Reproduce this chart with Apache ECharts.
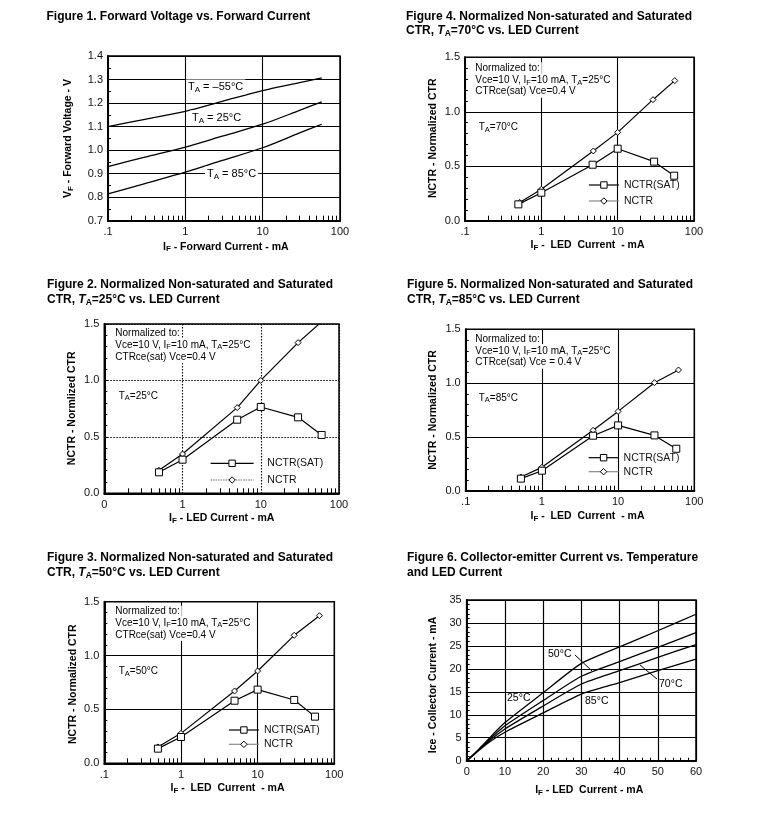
<!DOCTYPE html>
<html><head><meta charset="utf-8">
<script src="https://cdn.jsdelivr.net/npm/echarts@6/dist/echarts.min.js"></script>
<style>html,body{margin:0;padding:0;background:#fff}#c{width:776px;height:816px}</style>
</head><body><div id="c"></div>
<script>
// ---------------- data ----------------
const logTickValues = [0.1, 1, 10, 100];
const logTickLabels = ['.1', '1', '10', '100'];
const fig2TickLabels = ['0', '1', '10', '100'];

// Figure 1: Forward voltage vs forward current
const fig1Current = [0.1, 0.3, 1, 3, 10, 30, 58];
const fig1VfMinus55 = [1.100, 1.131, 1.165, 1.207, 1.253, 1.287, 1.307];
const fig1Vf25 = [0.930, 0.970, 1.013, 1.059, 1.110, 1.169, 1.205];
const fig1Vf85 = [0.814, 0.858, 0.906, 0.956, 1.010, 1.073, 1.110];

// Figure 2: TA = 25°C
const fig2SatCurrent = [0.5, 1, 5, 10, 30, 60];
const fig2Sat = [0.186, 0.298, 0.652, 0.765, 0.673, 0.517];
const fig2NctrCurrent = [0.5, 1, 5, 10, 30, 60];
const fig2Nctr = [0.204, 0.348, 0.759, 1.000, 1.335, 1.52];

// Figure 3: TA = 50°C
const fig3SatCurrent = [0.5, 1, 5, 10, 30, 56];
const fig3Sat = [0.136, 0.244, 0.581, 0.684, 0.588, 0.433];
const fig3NctrCurrent = [0.5, 1, 5, 10, 30, 64];
const fig3Nctr = [0.152, 0.278, 0.671, 0.857, 1.188, 1.370];

// Figure 4: TA = 70°C
const fig4SatCurrent = [0.5, 1, 4.7, 10, 30, 55];
const fig4Sat = [0.150, 0.257, 0.514, 0.661, 0.542, 0.413];
const fig4NctrCurrent = [0.52, 1, 4.8, 10, 29, 56];
const fig4Nctr = [0.168, 0.288, 0.640, 0.811, 1.111, 1.286];

// Figure 5: TA = 85°C
const fig5SatCurrent = [0.53, 1, 4.7, 10, 30, 58];
const fig5Sat = [0.112, 0.186, 0.511, 0.607, 0.514, 0.390];
const fig5NctrCurrent = [0.53, 1, 4.7, 10, 30, 62];
const fig5Nctr = [0.127, 0.217, 0.561, 0.737, 1.004, 1.122];

// Figure 6: Ice vs IF
const fig6Current = [0, 2, 5, 10, 20, 30, 40, 50, 60];
const fig6Ice25 = [0, 1.5, 4.1, 8.3, 14.8, 21.2, 24.8, 28.3, 31.9];
const fig6Ice50 = [0, 1.5, 3.9, 7.6, 13.1, 18.4, 21.6, 24.7, 27.9];
const fig6Ice70 = [0, 1.4, 3.7, 6.9, 11.9, 16.7, 19.6, 22.5, 25.3];
const fig6Ice85 = [0, 1.4, 3.5, 6.2, 10.4, 14.5, 17.0, 19.6, 22.1];

// ---------------- helpers ----------------
const FONT = '"Liberation Sans", Arial, Helvetica, sans-serif';
const pts = (xs, ys) => xs.map((x, i) => [x, ys[i]]);
const minorLogTicks = [];
[0.1, 1, 10].forEach(d => { for (let k = 2; k <= 9; k++) minorLogTicks.push(+(d * k).toFixed(6)); });

function labelFor(v, labels) {
  for (let i = 0; i < logTickValues.length; i++) {
    if (Math.abs(Math.log10(v) - Math.log10(logTickValues[i])) < 0.01) return labels[i];
  }
  return '';
}

const grids = [
  {left: 108, top: 56, width: 232, height: 164.7},      // fig1
  {left: 104.3, top: 324, width: 234.7, height: 169.3}, // fig2
  {left: 104.3, top: 601.7, width: 230, height: 161.6}, // fig3
  {left: 465, top: 57.3, width: 229, height: 163.4},    // fig4
  {left: 465.7, top: 329.3, width: 228.6, height: 161.4},// fig5
  {left: 466.7, top: 600, width: 229.3, height: 160.7}  // fig6
];

const xAxes = [];
const yAxes = [];
function addLogX(gi, labels, dotted) {
  xAxes.push({
    type: 'log', logBase: 10, gridIndex: gi, min: 0.1, max: 100, position: 'bottom',
    axisLine: {show: true, lineStyle: {color: '#000', width: 2}},
    axisTick: {show: false},
    axisLabel: {fontSize: 11, color: '#111', fontFamily: FONT, margin: 6,
      formatter: v => labelFor(v, labels)},
    splitLine: {show: true, lineStyle: {color: '#000', width: 1.1, type: dotted ? [1.5, 1.5] : 'solid'}}
  });
  xAxes.push({
    type: 'log', logBase: 10, gridIndex: gi, min: 0.1, max: 100, position: 'bottom',
    axisLine: {show: false}, axisLabel: {show: false}, splitLine: {show: false},
    axisTick: {show: true, inside: true, length: 5, customValues: minorLogTicks,
      lineStyle: {color: '#000', width: 1}}
  });
}
function addY(gi, min, max, interval, minorSplit, decimals, dotted) {
  yAxes.push({
    type: 'value', gridIndex: gi, min: min, max: max, interval: interval,
    axisLine: {show: true, lineStyle: {color: '#000', width: 2}},
    axisTick: {show: true, inside: true, length: 4, lineStyle: {color: '#000'}},
    minorTick: {show: true, splitNumber: minorSplit, length: 3, lineStyle: {color: '#000'}},
    axisLabel: {fontSize: 11, color: '#111', fontFamily: FONT, margin: 5,
      formatter: v => v.toFixed(decimals)},
    splitLine: {show: true, lineStyle: {color: '#000', width: 1.1, type: dotted ? [1.5, 1.5] : 'solid'}}
  });
}
addLogX(0, logTickLabels, false);
addLogX(1, fig2TickLabels, true);
addLogX(2, logTickLabels, false);
addLogX(3, logTickLabels, false);
addLogX(4, logTickLabels, false);
xAxes.push({
  type: 'value', gridIndex: 5, min: 0, max: 60, interval: 10,
  axisLine: {show: true, lineStyle: {color: '#000', width: 2}},
  axisTick: {show: true, inside: true, length: 4, lineStyle: {color: '#000'}},
  minorTick: {show: true, splitNumber: 5, length: 3, lineStyle: {color: '#000'}},
  axisLabel: {fontSize: 11, color: '#111', fontFamily: FONT, margin: 6},
  splitLine: {show: true, lineStyle: {color: '#000', width: 1.2}}
});
addY(0, 0.7, 1.4, 0.1, 2, 1, false);
addY(1, 0, 1.5, 0.5, 5, 1, true);
addY(2, 0, 1.5, 0.5, 5, 1, false);
addY(3, 0, 1.5, 0.5, 5, 1, false);
addY(4, 0, 1.5, 0.5, 5, 1, false);
addY(5, 0, 35, 5, 5, 0, false);

const series = [];
function curve(name, xi, yi, xs, ys, smooth) {
  series.push({type: 'line', name: name, xAxisIndex: xi, yAxisIndex: yi, data: pts(xs, ys),
    symbol: 'none', smooth: smooth, lineStyle: {color: '#000', width: 1.3}, silent: true, z: 3});
}
curve('-55', 0, 0, fig1Current, fig1VfMinus55, 0.3);
curve('25', 0, 0, fig1Current, fig1Vf25, 0.3);
curve('85', 0, 0, fig1Current, fig1Vf85, 0.3);

function ctr(gi, sx, sy, nx, ny) {
  series.push({type: 'line', name: 'NCTR(SAT)', xAxisIndex: gi * 2, yAxisIndex: gi,
    data: pts(sx, sy), symbol: 'rect', symbolSize: 7, showSymbol: true, clip: true,
    itemStyle: {color: '#fff', borderColor: '#000', borderWidth: 1},
    lineStyle: {color: '#000', width: 1.2}, silent: true, z: 4});
  series.push({type: 'line', name: 'NCTR', xAxisIndex: gi * 2, yAxisIndex: gi,
    data: pts(nx, ny), symbol: 'diamond', symbolSize: 6, showSymbol: true, clip: true,
    itemStyle: {color: '#fff', borderColor: '#000', borderWidth: 1},
    lineStyle: {color: '#000', width: 1.2}, silent: true, z: 3});
}
ctr(1, fig2SatCurrent, fig2Sat, fig2NctrCurrent, fig2Nctr);
ctr(2, fig3SatCurrent, fig3Sat, fig3NctrCurrent, fig3Nctr);
ctr(3, fig4SatCurrent, fig4Sat, fig4NctrCurrent, fig4Nctr);
ctr(4, fig5SatCurrent, fig5Sat, fig5NctrCurrent, fig5Nctr);

curve('25°C', 10, 5, fig6Current, fig6Ice25, 0.2);
curve('50°C', 10, 5, fig6Current, fig6Ice50, 0.2);
curve('70°C', 10, 5, fig6Current, fig6Ice70, 0.2);
curve('85°C', 10, 5, fig6Current, fig6Ice85, 0.2);

// legends
function legend(left, rowCenter, itemWidth, spacing, nctrLine, prefix) {
  return {
    orient: 'vertical', left: left, top: rowCenter - 6, padding: 0,
    itemWidth: itemWidth, itemHeight: 8, itemGap: spacing - 12,
    selectedMode: false,
    itemStyle: {borderWidth: 1, borderColor: '#000', color: '#fff'},
    lineStyle: {width: 1.2},
    textStyle: {fontSize: 10.5, lineHeight: 12, color: '#111', fontFamily: FONT},
    formatter: n => prefix + n,
    data: [{name: 'NCTR(SAT)', lineStyle: {color: '#000', width: 1.2}},
           {name: 'NCTR', lineStyle: Object.assign({width: 1.2}, nctrLine)}]
  };
}
const legends = [
  legend(210, 463.3, 43, 16.7, {color: '#666', type: [1.5, 1]}, '   '),
  legend(228.3, 730, 30, 14.3, {color: '#888'}, ''),
  legend(588.3, 185, 30, 16, {color: '#888'}, ''),
  legend(588, 457.7, 30, 14, {color: '#888'}, '')
];

// ---------------- text ----------------
const RICH = {
  t: {fontSize: 12, fontWeight: 'bold', fontFamily: FONT},
  ti: {fontSize: 12, fontWeight: 'bold', fontStyle: 'italic', fontFamily: FONT},
  ts: {fontSize: 8.5, fontWeight: 'bold', fontFamily: FONT, padding: [6, 0, 0, 0]},
  b: {fontSize: 10.5, fontWeight: 'bold', fontFamily: FONT},
  bs: {fontSize: 8, fontWeight: 'bold', fontFamily: FONT, padding: [5, 0, 0, 0]},
  n: {fontSize: 10, fontFamily: FONT},
  ns: {fontSize: 7.5, fontFamily: FONT, padding: [4, 0, 0, 0]},
  m: {fontSize: 11, fontFamily: FONT},
  ms: {fontSize: 8, fontFamily: FONT, padding: [5, 0, 0, 0]},
  l: {fontSize: 10.5, fontFamily: FONT}
};
const graphics = [];
function txt(x, y, text, align, opts) {
  opts = opts || {};
  const style = Object.assign({text: text, rich: RICH, fill: '#000',
    align: align, textAlign: align, verticalAlign: 'middle', textVerticalAlign: 'middle'}, opts.style || {});
  const el = {type: 'text', x: x, y: y, silent: true, z: 100, style: style};
  if (opts.rotate) el.rotation = Math.PI / 2;
  graphics.push(el);
}
// titles
txt(46.5, 16.7, '{t|Figure 1. Forward Voltage vs. Forward Current}', 'left');
txt(406, 16.7, '{t|Figure 4. Normalized Non-saturated and Saturated}', 'left');
txt(406, 31, '{t|CTR, }{ti|T}{ts|A}{t|=70°C vs. LED Current}', 'left');
txt(47, 285, '{t|Figure 2. Normalized Non-saturated and Saturated}', 'left');
txt(47, 299.5, '{t|CTR, }{ti|T}{ts|A}{t|=25°C vs. LED Current}', 'left');
txt(407, 285, '{t|Figure 5. Normalized Non-saturated and Saturated}', 'left');
txt(407, 300, '{t|CTR, }{ti|T}{ts|A}{t|=85°C vs. LED Current}', 'left');
txt(47, 557.3, '{t|Figure 3. Normalized Non-saturated and Saturated}', 'left');
txt(47, 572.7, '{t|CTR, }{ti|T}{ts|A}{t|=50°C vs. LED Current}', 'left');
txt(407, 557.3, '{t|Figure 6. Collector-emitter Current vs. Temperature}', 'left');
txt(407, 572.7, '{t|and LED Current}', 'left');

// axis names
txt(225.8, 246.7, '{b|I}{bs|F}{b| - Forward Current - mA}', 'center');
txt(68.3, 138.5, '{b|V}{bs|F}{b| - Forward Voltage - V}', 'center', {rotate: true});
txt(221.7, 518.3, '{b|I}{bs|F}{b| - LED Current - mA}', 'center');
txt(71.7, 408.3, '{b|NCTR - Normlized CTR}', 'center', {rotate: true});
txt(227.5, 788.3, '{b|I}{bs|F}{b| -  LED  Current  - mA}', 'center');
txt(72.7, 684.2, '{b|NCTR - Normalized CTR}', 'center', {rotate: true});
txt(587.5, 245, '{b|I}{bs|F}{b| -  LED  Current  - mA}', 'center');
txt(432.7, 138.3, '{b|NCTR - Normalized CTR}', 'center', {rotate: true});
txt(587.5, 516, '{b|I}{bs|F}{b| -  LED  Current  - mA}', 'center');
txt(433.3, 410, '{b|NCTR - Normalized CTR}', 'center', {rotate: true});
txt(589.2, 790, '{b|I}{bs|F}{b| - LED  Current - mA}', 'center');
txt(433.3, 685, '{b|Ice - Collector Current - mA}', 'center', {rotate: true});

// figure 1 curve labels
const WB = {style: {backgroundColor: '#fff', padding: [1, 2]}};
txt(186, 87, '{m|T}{ms|A}{m| = –55°C}', 'left', WB);
txt(190, 118, '{m|T}{ms|A}{m| = 25°C}', 'left', WB);
txt(205, 174, '{m|T}{ms|A}{m| = 85°C}', 'left', WB);

// normalization notes
function notes(x, y1, y2, y3, line3, ta, tx, ty) {
  txt(x, y1, '{n|Normalized to:}', 'left', WB);
  txt(x, y2, '{n|Vce=10 V, I}{ns|F}{n|=10 mA, T}{ns|A}{n|=25°C}', 'left', WB);
  txt(x, y3, '{n|' + line3 + '}', 'left', WB);
  txt(tx, ty, '{n|T}{ns|A}{n|=' + ta + '}', 'left', WB);
}
notes(473.3, 68.3, 80.7, 91.7, 'CTRce(sat) Vce=0.4 V', '70°C', 476.7, 127.7);
notes(113.3, 333.3, 345, 357.3, 'CTRce(sat) Vce=0.4 V', '25°C', 116.7, 396);
notes(473.3, 339, 351, 362.7, 'CTRce(sat) Vce = 0.4 V', '85°C', 476.7, 398.3);
notes(113.3, 611.7, 623.3, 635, 'CTRce(sat) Vce=0.4 V', '50°C', 116.7, 671.7);

// figure 6 labels
txt(548, 654, '{l|50°C}', 'left');
txt(507, 698, '{l|25°C}', 'left');
txt(585, 701, '{l|85°C}', 'left');
txt(659, 684, '{l|70°C}', 'left');
graphics.push({type: 'line', silent: true, z: 100, shape: {x1: 575, y1: 655, x2: 592, y2: 671},
  style: {stroke: '#000', lineWidth: 1}});
graphics.push({type: 'line', silent: true, z: 100, shape: {x1: 640, y1: 665, x2: 657, y2: 679},
  style: {stroke: '#000', lineWidth: 1}});

const chart = echarts.init(document.getElementById('c'), null, {renderer: 'canvas', width: 776, height: 816});
chart.setOption({
  animation: false,
  backgroundColor: '#fff',
  textStyle: {fontFamily: FONT},
  grid: grids.map(g => Object.assign({show: true, borderColor: '#000', borderWidth: 1.5, containLabel: false}, g)),
  xAxis: xAxes,
  yAxis: yAxes,
  legend: legends,
  series: series,
  graphic: {elements: graphics}
});
</script>
</body></html>
